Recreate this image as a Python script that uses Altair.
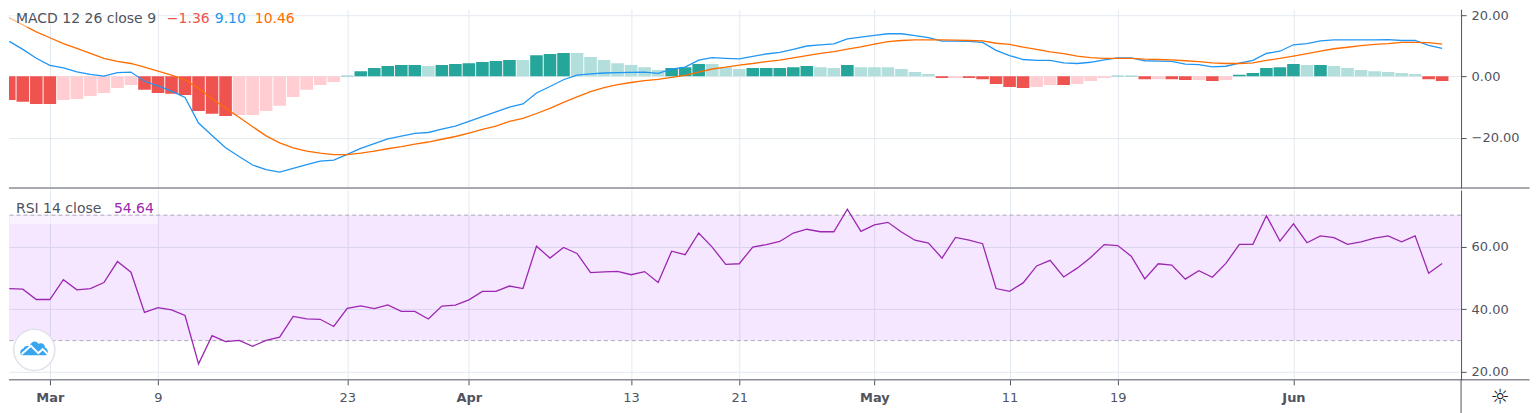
import altair as alt
import pandas as pd

hist = [-7.7,-8.3,-9.0,-9.0,-7.7,-7.4,-6.4,-5.4,-3.8,-2.8,
        -4.4,-5.4,-5.7,-6.1,-11.3,-12.2,-12.9,-12.6,-12.6,-11.3,
        -9.6,-6.7,-4.4,-2.8,-1.8,0.2,1.7,2.7,3.4,3.7,
        3.7,3.4,3.7,4.0,4.3,4.7,5.0,5.3,5.3,6.9,
        7.3,7.6,7.6,6.3,5.3,4.3,3.7,3.0,2.1,2.7,
        3.0,4.0,4.0,3.0,2.4,2.7,2.7,2.7,3.0,3.4,
        3.0,2.7,3.7,3.0,3.0,3.0,2.4,1.4,0.8,-0.5,
        -0.5,-0.5,-0.9,-2.5,-3.5,-3.8,-3.5,-2.8,-2.8,-2.5,
        -1.5,-0.5,0.2,0.2,-0.9,-0.9,-0.9,-1.2,-1.2,-1.5,
        -1.2,0.5,1.1,2.7,3.0,4.0,3.7,3.7,3.4,2.7,
        2.1,1.7,1.4,1.1,0.8,-0.9,-1.5]
tone = list("RRRR" "rrrrrr" "RRRRRRR" "rrrrrrrr" "TTTTTT" "t" "TTTTTT" "t" "TTT" "ttttttt"
            "TTT" "ttt" "TTTTT" "tt" "T" "tttttt" "R" "r" "RRRRR" "rr" "R" "rrr" "TT" "R" "r"
            "RR" "r" "R" "r" "TTTTT" "t" "T" "ttttttt" "RR")
macd = [11.4,8.8,5.9,3.6,2.8,1.5,0.65,0.1,1.2,1.4,
        -1.6,-3.1,-4.8,-6.9,-15.2,-19.3,-23.3,-26.1,-28.9,-30.4,
        -31.2,-30.0,-28.8,-27.6,-27.3,-25.4,-23.5,-21.9,-20.4,-19.5,
        -18.6,-18.3,-17.2,-16.2,-14.7,-13.1,-11.6,-10.0,-9.0,-5.4,
        -3.3,-1.1,0.4,0.8,1.1,1.2,1.3,1.4,1.0,2.4,
        3.0,5.3,6.1,5.9,5.7,6.5,7.3,7.8,8.8,9.9,
        10.3,10.6,12.2,12.8,13.4,13.9,13.9,13.3,12.6,11.5,
        11.5,11.4,11.1,8.5,6.8,5.5,5.2,5.2,4.4,4.2,
        4.6,5.4,6.0,6.0,5.1,5.0,4.9,4.0,3.8,3.1,
        3.3,4.3,5.2,7.5,8.2,10.3,10.7,11.6,11.9,11.9,
        11.9,11.9,12.0,11.7,11.7,10.1,9.1]
signal = [19.1,16.8,14.5,12.6,10.7,9.1,7.5,5.9,4.9,4.2,
          3.0,1.7,0.4,-1.1,-3.9,-7.3,-10.4,-13.3,-16.4,-19.4,
          -21.7,-23.3,-24.4,-25.0,-25.5,-25.5,-25.0,-24.4,-23.6,-22.9,
          -22.1,-21.4,-20.5,-19.6,-18.5,-17.3,-16.2,-14.7,-13.7,-12.1,
          -10.4,-8.5,-6.7,-5.0,-3.7,-2.7,-2.0,-1.4,-1.0,-0.3,
          0.3,1.4,2.4,3.0,3.7,4.2,4.8,5.3,6.0,6.8,
          7.5,8.1,8.9,9.6,10.5,11.3,11.7,11.9,11.9,11.9,
          11.8,11.7,11.6,10.8,10.4,9.5,8.8,8.0,7.4,6.6,
          6.1,5.9,5.9,5.9,5.6,5.5,5.4,5.1,4.8,4.4,
          4.2,4.2,4.4,5.2,5.9,6.6,7.4,8.2,9.0,9.5,
          10.0,10.4,10.7,11.1,11.1,11.0,10.5]
rsi = [46.6,46.4,43.1,43.1,49.4,46.2,46.6,48.5,55.2,51.8,
       39.0,40.5,39.8,38.0,22.6,31.6,29.7,30.1,28.2,30.1,
       31.1,37.7,36.9,36.8,34.5,40.3,41.1,40.2,41.4,39.3,
       39.3,36.9,41.0,41.3,43.0,45.7,45.7,47.4,46.6,60.1,
       56.3,59.7,57.8,51.7,51.9,52.1,51.0,52.0,48.5,58.5,
       57.4,64.3,59.8,54.3,54.5,59.8,60.6,61.6,64.3,65.5,
       64.7,64.7,71.9,64.8,66.9,67.7,64.6,62.0,61.1,56.3,
       62.9,62.0,60.9,46.6,45.7,48.4,53.8,55.6,50.3,53.1,
       56.5,60.6,60.3,56.9,49.7,54.5,54.1,49.6,52.3,50.2,
       54.6,60.7,60.7,69.8,61.7,67.2,61.2,63.4,62.8,60.7,
       61.5,62.7,63.4,61.5,63.4,51.5,54.6]
tick_idx = [3, 11, 25, 34, 46, 54, 64, 74, 82, 95]
tick_labels = ["Mar", "9", "23", "Apr", "13", "21", "May", "11", "19", "Jun"]
month_labels = ["Mar", "Apr", "May", "Jun"]
macd_ticks = [-20, 0, 20]
rsi_ticks = [20, 40, 60]
rsi_bounds = [70, 30]

df = pd.DataFrame({"i": range(len(hist)), "hist": hist, "tone": tone, "zero": [0] * len(hist),
                   "macd": macd, "signal": signal, "rsi": rsi})
one = pd.DataFrame({"a": [0]})

FONT = "DejaVu Sans"
INK = "#50535e"
GRID = "#e2e9ef"
W, H1, H2 = 1453.5, 179, 190
RIGHT = 1522
xdom = [-0.022, 107.40]
xscale = alt.Scale(domain=xdom, nice=False, zero=False, padding=0)
y1scale = alt.Scale(domain=[-36.4, 21.9], nice=False, zero=False)
y2scale = alt.Scale(domain=[17.5, 78.0], nice=False, zero=False)

lab_map = "{" + ",".join(f"{i}:'{t}'" for i, t in zip(tick_idx, tick_labels)) + "}[datum.value]"
bold_test = "||".join(f"datum.value=={i}" for i, t in zip(tick_idx, tick_labels) if t in month_labels)

def rule_across(y, color, width=1):
    return alt.Chart(one).mark_rule(color=color, strokeWidth=width).encode(
        x=alt.value(0), x2=alt.value(RIGHT), y=alt.value(y))

def label(text, x, y, color, size=14, weight="normal"):
    return alt.Chart(one).mark_text(text=text, align="left", baseline="middle", font=FONT,
                                    fontSize=size, color=color, fontWeight=weight).encode(
        x=alt.value(x), y=alt.value(y))

# ---- MACD pane
x_top = alt.X("i:Q", scale=xscale, title=None,
              axis=alt.Axis(values=tick_idx, grid=True, gridColor=GRID, labels=False, ticks=False,
                            domain=False))
y_top = alt.Y("hist:Q", scale=y1scale, title=None,
              axis=alt.Axis(orient="right", values=macd_ticks, format=".2f", grid=True, gridColor=GRID,
                            domainColor=INK, tickColor=INK, tickSize=5, labelColor=INK, labelFont=FONT,
                            labelFontSize=13, labelPadding=5, labelOverlap=False, labelFlush=False))
bars = alt.Chart(df).mark_bar(size=12.6, clip=True).encode(
    x=x_top, y=y_top, y2="zero:Q",
    color=alt.Color("tone:N", legend=None,
                    scale=alt.Scale(domain=["T", "t", "R", "r"],
                                    range=["#26a69a", "#b2dfdb", "#ef5350", "#ffcdd2"])))
macd_line = alt.Chart(df).mark_line(color="#2196f3", strokeWidth=1.3, clip=True).encode(
    x=alt.X("i:Q", scale=xscale), y=alt.Y("macd:Q", scale=y1scale))
signal_line = alt.Chart(df).mark_line(color="#ff6d00", strokeWidth=1.3, clip=True).encode(
    x=alt.X("i:Q", scale=xscale), y=alt.Y("signal:Q", scale=y1scale))
top_bg = alt.Chart(one).mark_rect(color="white", opacity=0.5).encode(
    x=alt.value(1), x2=alt.value(149), y=alt.value(0), y2=alt.value(18))
top = alt.layer(
    bars, macd_line, signal_line, top_bg,
    label("MACD 12 26 close 9", 7, 10, INK),
    label("\u22121.36", 158, 10, "#ef5350"),
    label("9.10", 206, 10, "#2196f3"),
    label("10.46", 246, 10, "#ff6d00"),
    rule_across(H1, INK),
).properties(width=W, height=H1)

# ---- RSI pane
x_bot = alt.X("i:Q", scale=xscale, title=None,
              axis=alt.Axis(values=tick_idx, grid=True, gridColor=GRID, labelExpr=lab_map, domain=False,
                            tickColor=INK, tickSize=5, labelColor=INK, labelFont=FONT, labelFontSize=13,
                            labelPadding=7, labelOverlap=False, labelFlush=False,
                            labelFontWeight={"condition": {"test": bold_test, "value": "bold"},
                                             "value": "normal"}))
y_bot = alt.Y("rsi:Q", scale=y2scale, title=None,
              axis=alt.Axis(orient="right", values=rsi_ticks, format=".2f", grid=True, gridColor=GRID,
                            domainColor=INK, tickColor=INK, tickSize=5, labelColor=INK, labelFont=FONT,
                            labelFontSize=13, labelPadding=5, labelOverlap=False, labelFlush=False))
bounds = pd.DataFrame({"hi": [rsi_bounds[0]], "lo": [rsi_bounds[1]]})
band = alt.Chart(bounds).mark_rect(color="#9915ff", opacity=0.1).encode(
    y=alt.Y("hi:Q", scale=y2scale), y2="lo:Q")
dash = alt.Chart(pd.DataFrame({"v": rsi_bounds})).mark_rule(
    color="#787b86", strokeDash=[4, 3], opacity=0.6, strokeWidth=1).encode(
    y=alt.Y("v:Q", scale=y2scale))
rsi_line = alt.Chart(df).mark_line(color="#9c27b0", strokeWidth=1.3, clip=True).encode(x=x_bot, y=y_bot)
bot_bg = alt.Chart(one).mark_rect(color="white", opacity=0.5).encode(
    x=alt.value(1), x2=alt.value(149), y=alt.value(26), y2=alt.value(34))
logo_disc = alt.Chart(one).mark_point(shape="circle", size=1700, filled=True, fill="white", opacity=1,
                                      stroke="#e0e3eb", strokeWidth=1.5).encode(
    x=alt.value(25.3), y=alt.value(160))
cloud = ("M-0.9,0.45 C-1.1,0.45 -1.1,0 -0.8,-0.05 C-0.75,-0.25 -0.45,-0.3 -0.35,-0.2 "
         "C-0.25,-0.55 0.1,-0.7 0.3,-0.4 C0.45,-0.5 0.8,-0.45 0.8,-0.1 C1.05,-0.05 1.1,0.45 0.85,0.45 Z")
logo_cloud = alt.Chart(one).mark_point(shape=cloud, size=729, filled=True, fill="#38a6ee", opacity=1,
                                       strokeWidth=0).encode(x=alt.value(25.3), y=alt.value(159.3))
zig = "M-0.95,0.38 L-0.25,-0.25 L0.3,0.3 L0.62,0 L1,0.38"
logo_zig = alt.Chart(one).mark_point(shape=zig, size=729, filled=False, stroke="white", opacity=1,
                                     strokeWidth=2).encode(x=alt.value(25.3), y=alt.value(159.3))
gear = label("\u263c", 1483, 208, "#131722", size=21)
vline = alt.Chart(one).mark_rule(color=INK, strokeWidth=1).encode(
    x=alt.value(W), y=alt.value(H2), y2=alt.value(224))
bot = alt.layer(
    band, dash, rsi_line, bot_bg, logo_disc, logo_cloud, logo_zig,
    label("RSI 14 close", 7, 19, INK),
    label("54.64", 105, 19, "#9c27b0"),
    rule_across(H2, INK), rule_across(224, "#e0e3eb"), vline, gear,
).properties(width=W, height=H2)

chart = alt.vconcat(top, bot, spacing=1).resolve_scale(color="independent").properties(
    padding=0, background="white"
).configure_view(stroke=None).configure_axis(gridWidth=1)

chart.save("out.html", embed_options={"renderer": "svg", "actions": False})
